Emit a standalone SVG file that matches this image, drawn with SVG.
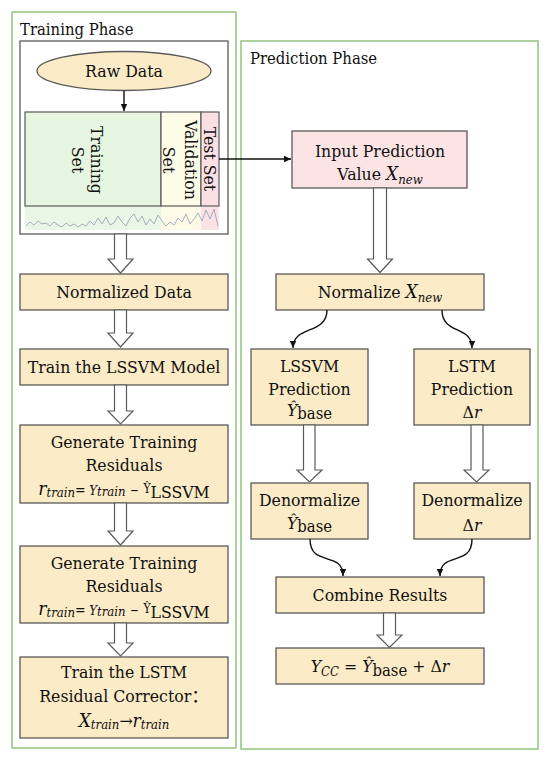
<svg xmlns="http://www.w3.org/2000/svg" width="550" height="761" viewBox="0 0 550 761">
<style>
text{font-family:"DejaVu Serif Condensed","DejaVu Serif",serif;font-stretch:condensed;font-size:17.5px;fill:#111;}
.cjk{font-family:"Noto Sans CJK SC",sans-serif;}
.ph{font-size:16.5px;}
.it{font-style:italic;}
.sb{font-size:13px;font-style:italic;}
.box{fill:#FBEBC6;stroke:#5a5a5a;stroke-width:1.3;}
.pink{fill:#FCE4E4;stroke:#5a5a5a;stroke-width:1.3;}
.frame{fill:none;stroke:#93C47D;stroke-width:1.5;}
.blk{fill:#fff;stroke:#5a5a5a;stroke-width:1.2;}
.con{fill:none;stroke:#111;stroke-width:1.4;}
</style>
<defs>
<marker id="ah" markerWidth="8" markerHeight="8" refX="7" refY="4" orient="auto" markerUnits="userSpaceOnUse">
<path d="M0,0.8 L7,4 L0,7.2 Z" fill="#111"/>
</marker>
</defs>
<rect width="550" height="761" fill="#fff"/>

<g id="training-phase">
<rect class="frame" x="12" y="12" width="224" height="736"/>
<text class="ph" x="20" y="35">Training Phase</text>
</g>
<g id="prediction-phase">
<rect class="frame" x="241" y="41" width="297" height="708"/>
<text class="ph" x="250" y="64">Prediction Phase</text>
</g>

<g id="data-block">
<rect x="20" y="41" width="208" height="193" fill="#fff" stroke="#5a5a5a" stroke-width="1.3"/>
<rect x="25" y="206" width="136" height="24" fill="#EBF7E6"/>
<rect x="161" y="206" width="40" height="24" fill="#FDFBE7"/>
<rect x="201" y="206" width="18" height="24" fill="#FAE3E6"/>
<polyline fill="none" stroke="#98A6BA" stroke-width="0.9" points="26,226 30,222 34,225 38,221 42,224 46,223 50,226 54,222 58,225 62,227 66,223 70,226 74,224 78,227 82,224 86,226 90,221 94,225 98,218 102,224 106,217 110,225 114,223 118,216 122,222 126,226 130,218 134,214 138,222 142,216 146,225 150,219 154,224 158,215 162,221 166,226 170,222 174,225 178,218 182,222 186,214 190,224 194,219 198,213 202,221 206,210 210,219 214,209 218,226"/>
<rect x="25" y="112" width="136" height="94" fill="#E6F6E0" stroke="#5a5a5a" stroke-width="1.2"/>
<rect x="161" y="112" width="40" height="94" fill="#FDFCE6" stroke="#5a5a5a" stroke-width="1.2"/>
<rect x="201" y="112" width="18" height="94" fill="#FAE0E4" stroke="#5a5a5a" stroke-width="1.2"/>
<g transform="translate(97,160) rotate(90)"><text x="0" y="6" text-anchor="middle">Training</text><text x="0" y="25" text-anchor="middle">Set</text></g>
<g transform="translate(191,160) rotate(90)"><text x="0" y="6" text-anchor="middle">Validation</text><text x="0" y="28" text-anchor="middle">Set</text></g>
<g transform="translate(210,159) rotate(90)"><text x="0" y="6" text-anchor="middle">Test Set</text></g>
</g>

<g id="raw-data">
<ellipse cx="124" cy="71" rx="87" ry="19.5" fill="#FBEBC6" stroke="#5a5a5a" stroke-width="1.3"/>
<text x="124" y="77" text-anchor="middle">Raw Data</text>
</g>

<g id="normalized-data">
<rect class="box" x="20" y="274" width="208" height="36"/>
<text x="124" y="298" text-anchor="middle">Normalized Data</text>
</g>
<g id="train-lssvm">
<rect class="box" x="20" y="349" width="208" height="36"/>
<text x="124" y="373" text-anchor="middle">Train the LSSVM Model</text>
</g>
<g id="gen-residuals-1">
<rect class="box" x="20" y="425" width="208" height="78"/>
<text x="124" y="448" text-anchor="middle">Generate Training</text>
<text x="124" y="471" text-anchor="middle">Residuals</text>
<text x="124" y="495" text-anchor="middle"><tspan class="it" font-size="19">r</tspan><tspan class="sb" font-size="15" dy="2">train</tspan><tspan dy="-2" font-size="14">=</tspan><tspan class="it" font-size="13"> Y</tspan><tspan class="sb" font-size="10.5" dy="1">train</tspan><tspan dy="-1"> – </tspan><tspan font-size="12" dy="-2">Ŷ</tspan><tspan dy="5">LSSVM</tspan></text>
</g>
<g id="gen-residuals-2">
<rect class="box" x="20" y="546" width="208" height="77"/>
<text x="124" y="569" text-anchor="middle">Generate Training</text>
<text x="124" y="592" text-anchor="middle">Residuals</text>
<text x="124" y="615" text-anchor="middle"><tspan class="it" font-size="19">r</tspan><tspan class="sb" font-size="15" dy="2">train</tspan><tspan dy="-2" font-size="14">=</tspan><tspan class="it" font-size="13"> Y</tspan><tspan class="sb" font-size="10.5" dy="1">train</tspan><tspan dy="-1"> – </tspan><tspan font-size="12" dy="-2">Ŷ</tspan><tspan dy="5">LSSVM</tspan></text>
</g>
<g id="train-lstm">
<rect class="box" x="20" y="657" width="208" height="81"/>
<text x="124" y="678" text-anchor="middle">Train the LSTM</text>
<text x="124" y="702" text-anchor="middle">Residual Corrector<tspan class="cjk">：</tspan></text>
<text x="124" y="727" text-anchor="middle"><tspan class="it" font-size="19">X</tspan><tspan class="sb" font-size="15" dy="2">train</tspan><tspan dy="-2">→</tspan><tspan class="it" font-size="19">r</tspan><tspan class="sb" font-size="15" dy="2">train</tspan></text>
</g>

<g id="input-prediction">
<rect class="pink" x="292" y="131" width="175" height="57"/>
<text x="380" y="157" text-anchor="middle">Input Prediction</text>
<text x="380" y="180" text-anchor="middle">Value <tspan class="it" font-size="19">X</tspan><tspan class="sb" font-size="15" dy="4">new</tspan></text>
</g>
<g id="normalize-xnew">
<rect class="box" x="276" y="274" width="208" height="36"/>
<text x="380" y="298" text-anchor="middle">Normalize <tspan class="it" font-size="19">X</tspan><tspan class="sb" font-size="15" dy="4">new</tspan></text>
</g>
<g id="lssvm-prediction">
<rect class="box" x="251" y="349" width="117" height="76"/>
<text x="309.5" y="372" text-anchor="middle">LSSVM</text>
<text x="309.5" y="395" text-anchor="middle">Prediction</text>
<text x="309.5" y="416" text-anchor="middle"><tspan class="it">Ŷ</tspan><tspan font-size="16.5" dy="3">base</tspan></text>
</g>
<g id="lstm-prediction">
<rect class="box" x="414" y="349" width="116" height="76"/>
<text x="472" y="372" text-anchor="middle">LSTM</text>
<text x="472" y="395" text-anchor="middle">Prediction</text>
<text x="472" y="418" text-anchor="middle">Δ<tspan class="it">r</tspan></text>
</g>
<g id="denorm-base">
<rect class="box" x="251" y="483" width="117" height="56"/>
<text x="309.5" y="506" text-anchor="middle">Denormalize</text>
<text x="309.5" y="529" text-anchor="middle"><tspan class="it">Ŷ</tspan><tspan font-size="16.5" dy="3">base</tspan></text>
</g>
<g id="denorm-delta">
<rect class="box" x="414" y="483" width="116" height="56"/>
<text x="472" y="506" text-anchor="middle">Denormalize</text>
<text x="472" y="531" text-anchor="middle">Δ<tspan class="it">r</tspan></text>
</g>
<g id="combine-results">
<rect class="box" x="276" y="577" width="208" height="36"/>
<text x="380" y="601" text-anchor="middle">Combine Results</text>
</g>
<g id="final-result">
<rect class="box" x="276" y="648" width="208" height="36"/>
<text x="380" y="672" text-anchor="middle"><tspan class="it">Y</tspan><tspan class="sb" dy="4">CC</tspan><tspan dy="-4"> =  </tspan><tspan class="it">Ŷ</tspan><tspan font-size="16.5" dy="4">base</tspan><tspan dy="-4">  + Δ</tspan><tspan class="it">r</tspan></text>
</g>

<g id="connectors">
<line class="con" x1="124" y1="90.5" x2="124" y2="111" marker-end="url(#ah)"/>
<line class="con" x1="219" y1="159" x2="291" y2="159" marker-end="url(#ah)"/>
<path class="con" d="M327,310 C327,335 293,325 293,348" marker-end="url(#ah)"/>
<path class="con" d="M442,310 C442,335 472,325 472,348" marker-end="url(#ah)"/>
<path class="con" d="M310,539 C310,568 343,550 343,576" marker-end="url(#ah)"/>
<path class="con" d="M472,539 C472,568 440,550 440,576" marker-end="url(#ah)"/>
<polygon class="blk" points="114.5,234 126.5,234 126.5,259 133,259 120.5,273 108,259 114.5,259"/>
<polygon class="blk" points="114.5,310 126.5,310 126.5,333 133,333 120.5,347 108,333 114.5,333"/>
<polygon class="blk" points="114.5,385 126.5,385 126.5,411 133,411 120.5,424 108,411 114.5,411"/>
<polygon class="blk" points="114.5,503 126.5,503 126.5,531 133,531 120.5,545 108,531 114.5,531"/>
<polygon class="blk" points="114.5,623 126.5,623 126.5,643 133,643 120.5,656 108,643 114.5,643"/>
<polygon class="blk" points="373.5,188 386.5,188 386.5,259 392.5,259 380,272.5 367.5,259 373.5,259"/>
<polygon class="blk" points="303.5,425 315,425 315,470 322,470 309.5,482 297,470 303.5,470"/>
<polygon class="blk" points="471,425 483,425 483,470 489,470 476.5,482 464,470 471,470"/>
<polygon class="blk" points="383.5,613 395.5,613 395.5,635 402,635 389.5,647.5 377,635 383.5,635"/>
</g>
</svg>
